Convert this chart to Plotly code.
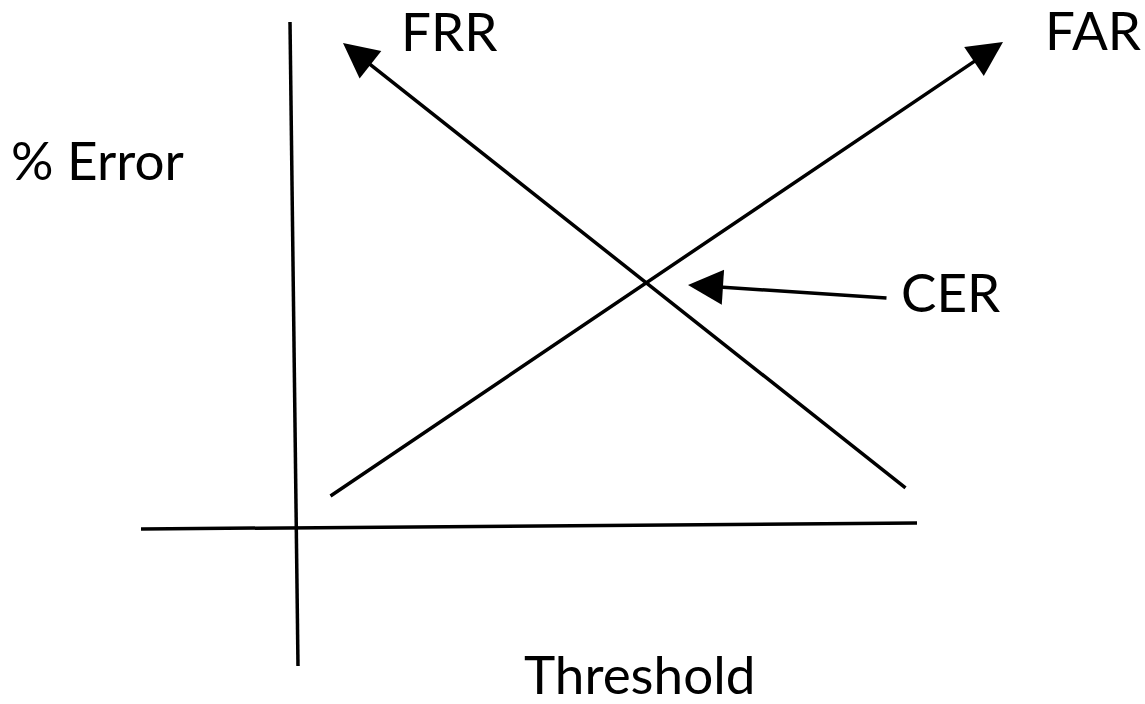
import plotly.graph_objects as go

# diagram coordinates (threshold on x, error on y; y grows downward like the source image)
y_axis_x = [290, 298]
y_axis_y = [22, 666]
x_axis_x = [141, 917]
x_axis_y = [529, 523]

far_x = [329, 1003]
far_y = [497, 42]
frr_x = [907, 343]
frr_y = [489, 43]
cer_x = [888, 688]
cer_y = [298, 285]

labels = ["FRR", "FAR", "CER", "% Error", "Threshold"]
label_x = [399, 1143, 899, 9, 639]
label_y = [30, 29, 291, 159, 673]
label_anchor = ["left", "right", "left", "left", "center"]

fig = go.Figure()

line_style = dict(color="black", width=3.5)
fig.add_trace(go.Scatter(x=y_axis_x, y=y_axis_y, mode="lines", line=line_style, hoverinfo="skip"))
fig.add_trace(go.Scatter(x=x_axis_x, y=x_axis_y, mode="lines", line=line_style, hoverinfo="skip"))

for xs, ys in [(far_x, far_y), (frr_x, frr_y), (cer_x, cer_y)]:
    fig.add_annotation(x=xs[1], y=ys[1], ax=xs[0], ay=ys[0], xref="x", yref="y", axref="x", ayref="y",
                       text="", showarrow=True, arrowhead=2, arrowsize=2.0, arrowwidth=3.5,
                       arrowcolor="black", standoff=0, startstandoff=0)

for t, x, y, a in zip(labels, label_x, label_y, label_anchor):
    fig.add_annotation(x=x, y=y, xref="x", yref="y", text=t, showarrow=False,
                       xanchor=a, yanchor="middle", font=dict(family="Lato", size=53, color="black"))

fig.update_xaxes(range=[0, 1145], visible=False)
fig.update_yaxes(range=[704, 0], visible=False)
fig.update_layout(width=1145, height=704, margin=dict(l=0, r=0, t=0, b=0),
                  plot_bgcolor="white", paper_bgcolor="white", showlegend=False)

fig.write_html("out.html", config={"displayModeBar": False},
               post_script="document.body.style.margin='0';")
